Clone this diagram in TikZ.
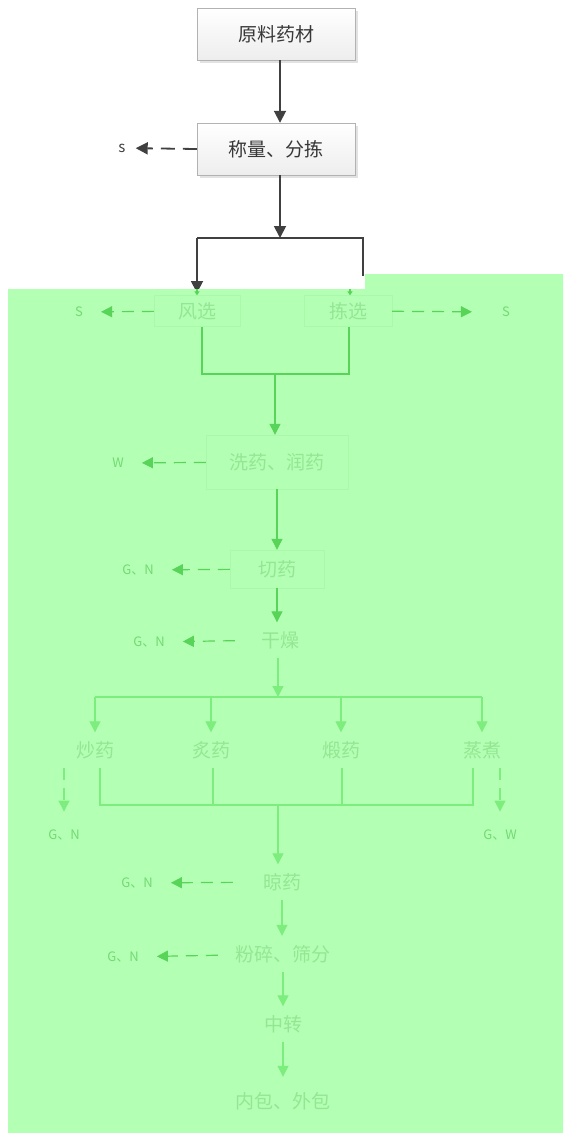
\documentclass[tikz,border=0pt]{standalone}
\usepackage{fontspec}
\setmainfont{Noto Sans CJK SC}
\usepackage{xcolor}
\usetikzlibrary{arrows.meta,positioning,shapes.geometric,calc,shadows}

\definecolor{bggreen}{RGB}{179,255,179}
\definecolor{darkgreen}{RGB}{88,212,88}
\definecolor{lightgreen}{RGB}{125,238,125}
\definecolor{txtgreen}{RGB}{148,230,148}
\definecolor{taggreen}{RGB}{115,218,115}
\definecolor{faintgreen}{RGB}{170,249,170}
\definecolor{linegray}{RGB}{64,64,64}

\tikzset{
  graybox/.style={draw=gray!60, top color=white, bottom color=gray!14,
    drop shadow={shadow xshift=2.5pt, shadow yshift=-2.5pt, fill=gray!45},
    minimum width=158pt, minimum height=52pt,
    font=\fontsize{19}{19}\selectfont, text=black!78},
  toptag/.style={font=\fontsize{15}{15}\selectfont, text=black!75, inner sep=0pt},
  darkline/.style={draw=linegray, line width=1.8pt},
  darkarrow/.style={darkline, -{Triangle[length=12pt,width=12pt]}},
  darkdash/.style={darkarrow, dash pattern=on 14pt off 8pt, shorten >=10pt},
  gstep/.style={minimum height=35pt, minimum width=70pt, inner sep=0pt,
    font=\fontsize{19}{19}\selectfont, text=txtgreen},
  gframe/.style={gstep, draw=faintgreen},
  gtag/.style={font=\fontsize{13}{13}\selectfont, text=taggreen, inner sep=0pt},
  gline/.style={draw=darkgreen, line width=1.2pt},
  garrow/.style={gline, -{Triangle[length=11pt,width=11pt]}},
  gdash/.style={garrow, dash pattern=on 12pt off 8pt, shorten >=18pt},
  lgline/.style={draw=lightgreen, line width=1.2pt},
  lgarrow/.style={lgline, -{Triangle[length=11pt,width=11pt]}},
  lgdash/.style={lgarrow, dash pattern=on 12pt off 8pt, shorten >=18pt}
}

\begin{document}
\begin{tikzpicture}[x=1pt,y=-1pt]
\useasboundingbox (0,0) rectangle (563,1133);

% raw material, weighing
\node[graybox] (raw) at (276,34) {原料药材};
\node[graybox] (weigh) at (276,149) {称量、分拣};
\node[toptag] (s0) at (122,148) {s};
\draw[darkarrow] ([xshift=4pt]raw.south) -- ([xshift=4pt]weigh.north);
\draw[darkdash] (weigh.west) -- (s0);

\coordinate (fork) at (280,238);
\coordinate (bl) at (197,238);
\coordinate (br) at (363,238);
\coordinate (blend) at (197,293);
\coordinate (brend) at (363,276);
\draw[darkarrow] ([xshift=4pt]weigh.south) -- (fork);
\draw[darkline] (blend |- bl) -- (br) -- (brend);
\draw[darkarrow] (bl) -- (blend);

% green area
\fill[bggreen] (8,289) -- (365,289) -- (365,274) -- (563,274) -- (563,1133) -- (8,1133) -- cycle;

\node[gframe, minimum width=86pt, minimum height=31pt] (wind) at (197,311) {风选};
\node[gframe, minimum width=88pt, minimum height=31pt] (pick) at (348,311) {拣选};
\node[gtag] (s1) at (79,312) {S};
\node[gtag] (s2) at (506,312) {S};
\draw[gline, -{Triangle[length=4pt,width=5pt]}] ([yshift=6pt]wind.north) -- (wind.north);
\draw[gline, -{Triangle[length=4pt,width=5pt]}] ([xshift=2pt,yshift=6pt]pick.north) -- ([xshift=2pt]pick.north);
\draw[gdash] (wind) -- (s1);
\draw[gdash, shorten >=30pt] (pick) -- (s2);

\coordinate (m1) at (275,374);
\draw[gline] ([xshift=5pt]wind.south) |- (m1) -| ([xshift=1pt]pick.south);

\node[gframe, minimum width=142pt, minimum height=54pt] (wash) at (277,462) {洗药、润药};
\node[gtag] (w) at (118,463) {W};
\draw[garrow] (m1) -- (m1 |- wash.north);
\draw[gdash] (wash) -- (w);

\node[gframe, minimum width=94pt, minimum height=38pt] (cut) at (277,569) {切药};
\node[gtag] (gn1) at (138,570) {G、N};
\draw[garrow] (wash) -- (cut);
\draw[gdash] (cut) -- (gn1);

\node[gstep, minimum width=90pt] (dry) at (280,640) {干燥};
\node[gtag] (gn2) at (149,642) {G、N};
\draw[garrow] (cut.south) -- (cut.south |- dry.north);
\draw[gdash] (dry) -- (gn2);

% four processing branches
\coordinate (split) at (278,697);
\node[gstep] (fry) at (95,750) {炒药};
\node[gstep] (roast) at (211,750) {炙药};
\node[gstep] (calcine) at (341,750) {煅药};
\node[gstep] (steam) at (482,750) {蒸煮};
\draw[lgarrow] (dry.south -| split) -- (split);
\draw[lgline] (fry.north |- split) -- (steam.north |- split);
\foreach \n in {fry,roast,calcine,steam}
  \draw[lgarrow] (\n.north |- split) -- (\n.north);

\node[gtag] (gn3) at (64,835) {G、N};
\node[gtag] (gw) at (500,835) {G、W};
\draw[lgdash] (fry.south -| gn3) -- (gn3);
\draw[lgdash] (steam.south -| gw) -- (gw);

\coordinate (join) at (278,805);
\draw[lgline] ([xshift=5pt]fry.south) |- (join) -| ([xshift=-9pt]steam.south);
\draw[lgline] ([xshift=2pt]roast.south) -- ([xshift=2pt]roast.south |- join);
\draw[lgline] ([xshift=1pt]calcine.south) -- ([xshift=1pt]calcine.south |- join);

\node[gstep, minimum width=98pt] (air) at (282,882) {晾药};
\node[gtag] (gn4) at (137,883) {G、N};
\draw[lgarrow] (join) -- (join |- air.north);
\draw[gdash] (air) -- (gn4);

\node[gstep, minimum width=130pt, minimum height=36pt] (crush) at (283,954) {粉碎、筛分};
\node[gtag] (gn5) at (123,957) {G、N};
\draw[lgarrow] (air.south) -- (air.south |- crush.north);
\draw[gdash] (crush) -- (gn5);

\node[gstep] (transit) at (283,1024) {中转};
\node[gstep, minimum height=48pt] (pack) at (283,1101) {内包、外包};
\draw[lgarrow] (crush) -- (transit);
\draw[lgarrow] (transit) -- (pack);
\end{tikzpicture}
\end{document}
